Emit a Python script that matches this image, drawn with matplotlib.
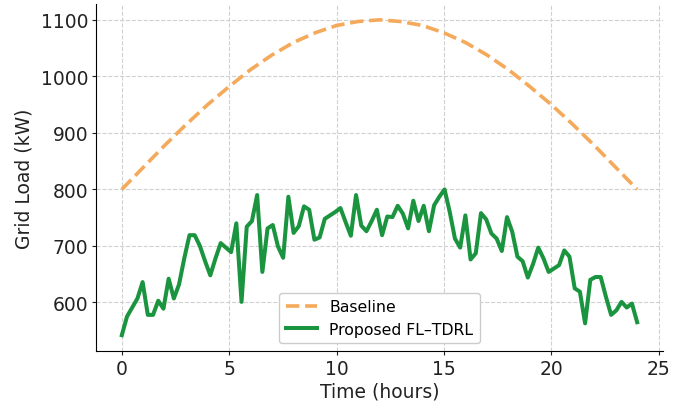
import numpy as np
import matplotlib.pyplot as plt

# hourly baseline load (kW)
hours = [0, 1, 2, 3, 4, 5, 6, 7, 8, 9, 10, 11, 12,
         13, 14, 15, 16, 17, 18, 19, 20, 21, 22, 23, 24]
baseline = [800, 839, 878, 915, 950, 982, 1012, 1038, 1060, 1077, 1090, 1097, 1100,
            1097, 1090, 1077, 1060, 1038, 1012, 982, 950, 915, 878, 839, 800]

# proposed FL-TDRL load, 100 samples over the day
t = np.linspace(0, 24, 100)
proposed = [542, 575, 591, 607, 636, 578, 578, 603, 589, 642,
            607, 632, 678, 719, 719, 700, 673, 648, 678, 705,
            697, 689, 740, 601, 734, 744, 790, 654, 731, 737,
            699, 679, 787, 723, 735, 770, 764, 711, 715, 748,
            754, 760, 767, 742, 718, 790, 736, 726, 744, 764,
            719, 752, 751, 771, 757, 731, 780, 744, 771, 726,
            772, 787, 800, 760, 713, 697, 754, 676, 687, 758,
            747, 722, 713, 691, 751, 725, 681, 673, 644, 668,
            697, 678, 654, 660, 666, 692, 681, 625, 619, 563,
            640, 645, 645, 610, 578, 586, 601, 591, 598, 565]

fig = plt.figure(figsize=(6.83, 4.02), dpi=100)
ax = fig.add_axes([0.1406, 0.1244, 0.830, 0.863])

ax.plot(hours, baseline, linestyle='--', color='#f5a95a', lw=2.6, label='Baseline')
ax.plot(t, proposed, color='#1b9440', lw=2.9, label='Proposed FL\u2013TDRL')

ax.set_xticks([0, 5, 10, 15, 20, 25])
ax.set_yticks([600, 700, 800, 900, 1000, 1100])
ax.tick_params(labelsize=13.5, length=3, pad=2.5, colors='#222222')
ax.set_xlabel('Time (hours)', fontsize=13.5, labelpad=3, color='#222222')
ax.set_ylabel('Grid Load (kW)', fontsize=13.5, labelpad=5, color='#222222')

ax.grid(True, linestyle='--', color='#d0d0d0', lw=0.8)
ax.spines['top'].set_visible(False)
ax.spines['right'].set_visible(False)

ax.legend(loc='lower center', fontsize=11.3, framealpha=1, edgecolor='#cccccc')

fig.savefig('out.png', dpi=100)
